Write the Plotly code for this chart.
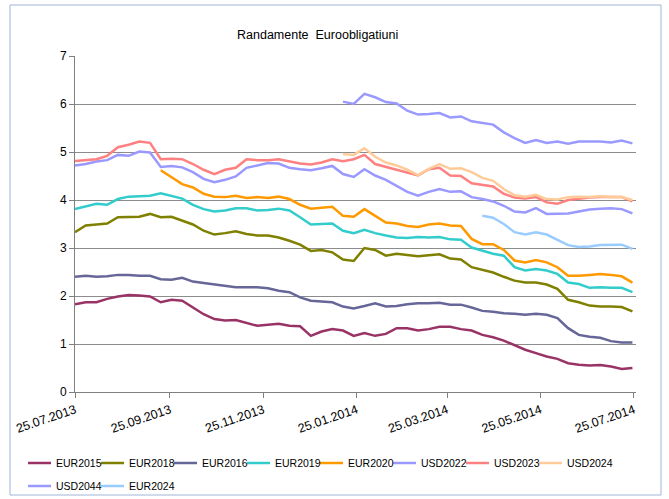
import pandas as pd
import plotly.graph_objects as go

N = None
dates = pd.date_range("2013-07-25", periods=53, freq="7D")

tick_dates = ["2013-07-25", "2013-09-25", "2013-11-25", "2014-01-25",
              "2014-03-25", "2014-05-25", "2014-07-25"]
tick_labels = ["25.07.2013", "25.09.2013", "25.11.2013", "25.01.2014",
               "25.03.2014", "25.05.2014", "25.07.2014"]

EUR2015 = [1.83, 1.87, 1.87, 1.94, 1.99, 2.02, 2.01, 1.99, 1.87, 1.92, 1.90, 1.76, 1.62, 1.52, 1.49, 1.50, 1.44, 1.38,
           1.40, 1.42, 1.38, 1.37, 1.17, 1.26, 1.31, 1.28, 1.17, 1.23, 1.17, 1.21, 1.33, 1.33, 1.28, 1.31, 1.36, 1.36,
           1.31, 1.28, 1.19, 1.14, 1.07, 0.97, 0.88, 0.81, 0.74, 0.69, 0.60, 0.57, 0.55, 0.56, 0.53, 0.48, 0.50]
EUR2018 = [3.33, 3.47, 3.49, 3.51, 3.64, 3.64, 3.65, 3.71, 3.64, 3.65, 3.57, 3.49, 3.36, 3.28, 3.31, 3.35, 3.29, 3.26,
           3.26, 3.22, 3.15, 3.07, 2.94, 2.96, 2.91, 2.76, 2.73, 3.00, 2.96, 2.84, 2.88, 2.86, 2.83, 2.85, 2.87, 2.78,
           2.76, 2.60, 2.54, 2.49, 2.40, 2.32, 2.28, 2.28, 2.24, 2.15, 1.92, 1.87, 1.80, 1.78, 1.78, 1.77, 1.68]
EUR2016 = [2.40, 2.42, 2.40, 2.41, 2.44, 2.44, 2.42, 2.42, 2.35, 2.34, 2.38, 2.30, 2.27, 2.24, 2.22, 2.18, 2.18, 2.18,
           2.16, 2.11, 2.08, 1.97, 1.90, 1.89, 1.87, 1.78, 1.74, 1.79, 1.85, 1.78, 1.79, 1.83, 1.85, 1.85, 1.86, 1.82,
           1.82, 1.76, 1.69, 1.67, 1.64, 1.63, 1.61, 1.63, 1.61, 1.54, 1.33, 1.19, 1.15, 1.13, 1.06, 1.03, 1.03]
EUR2019 = [3.81, 3.86, 3.92, 3.90, 4.02, 4.07, 4.08, 4.09, 4.14, 4.08, 4.03, 3.90, 3.81, 3.76, 3.78, 3.83, 3.83, 3.78,
           3.79, 3.82, 3.78, 3.64, 3.49, 3.50, 3.51, 3.36, 3.31, 3.38, 3.31, 3.26, 3.22, 3.21, 3.23, 3.22, 3.23, 3.18,
           3.17, 3.01, 2.94, 2.88, 2.84, 2.60, 2.53, 2.56, 2.53, 2.46, 2.28, 2.25, 2.17, 2.18, 2.17, 2.17, 2.08]
EUR2020 = [N, N, N, N, N, N, N, N, 4.62, 4.47, 4.33, 4.26, 4.13, 4.07, 4.06, 4.09, 4.04, 4.06,
           4.04, 4.07, 4.02, 3.90, 3.82, 3.84, 3.86, 3.67, 3.65, 3.81, 3.67, 3.53, 3.51, 3.46, 3.44, 3.49, 3.51, 3.47,
           3.46, 3.19, 3.08, 3.08, 2.96, 2.74, 2.70, 2.75, 2.70, 2.60, 2.42, 2.42, 2.44, 2.46, 2.44, 2.41, 2.28]
USD2022 = [4.72, 4.75, 4.80, 4.83, 4.94, 4.92, 5.01, 4.99, 4.69, 4.71, 4.68, 4.58, 4.44, 4.37, 4.42, 4.49, 4.67, 4.72,
           4.77, 4.76, 4.67, 4.64, 4.62, 4.66, 4.71, 4.54, 4.48, 4.64, 4.51, 4.42, 4.30, 4.17, 4.09, 4.17, 4.23, 4.17,
           4.18, 4.06, 4.02, 3.97, 3.88, 3.76, 3.74, 3.83, 3.71, 3.71, 3.72, 3.76, 3.80, 3.82, 3.83, 3.81, 3.72]
USD2023 = [4.81, 4.83, 4.85, 4.92, 5.10, 5.15, 5.22, 5.19, 4.85, 4.86, 4.85, 4.75, 4.63, 4.54, 4.63, 4.67, 4.85, 4.83,
           4.83, 4.85, 4.81, 4.76, 4.74, 4.78, 4.85, 4.81, 4.85, 4.94, 4.75, 4.69, 4.63, 4.56, 4.51, 4.64, 4.67, 4.51,
           4.50, 4.35, 4.32, 4.28, 4.13, 4.05, 4.03, 4.06, 3.95, 3.92, 4.00, 4.03, 4.05, 4.06, 4.06, 4.06, 3.97]
USD2024 = [N] * 25 + [4.96, 4.94, 5.08, 4.90, 4.78, 4.72, 4.63, 4.52, 4.65, 4.75, 4.65,
                      4.66, 4.58, 4.46, 4.40, 4.23, 4.10, 4.07, 4.11, 4.02, 4.01, 4.06, 4.07, 4.06, 4.08, 4.06, 4.06, 4.00]
USD2044 = [N] * 25 + [6.05, 6.00, 6.21, 6.14, 6.04, 6.01, 5.86, 5.78, 5.79, 5.81, 5.72,
                      5.74, 5.64, 5.61, 5.57, 5.41, 5.29, 5.19, 5.25, 5.19, 5.22, 5.17, 5.22, 5.22, 5.22, 5.20, 5.24, 5.18]
EUR2024 = [N] * 38 + [3.67, 3.63, 3.50, 3.33, 3.28, 3.33, 3.28, 3.17, 3.06, 3.02, 3.03, 3.06, 3.07, 3.07, 2.98]

series = [
    ("EUR2015", EUR2015, "#993366"),
    ("EUR2018", EUR2018, "#808000"),
    ("EUR2016", EUR2016, "#666699"),
    ("EUR2019", EUR2019, "#33CCCC"),
    ("EUR2020", EUR2020, "#FF9900"),
    ("USD2022", USD2022, "#9999FF"),
    ("USD2023", USD2023, "#FF8080"),
    ("USD2024", USD2024, "#FFCC99"),
    ("USD2044", USD2044, "#9999FF"),
    ("EUR2024", EUR2024, "#99CCFF"),
]

W, H = 669, 499
L, R, T, B = 75, 33, 56, 107
pw, ph = W - L - R, H - T - B

def px(xp):
    return (xp - L) / pw

def py(yp):
    return (H - B - yp) / ph

font = "Liberation Sans, Arial, sans-serif"

fig = go.Figure()
for name, vals, color in series:
    fig.add_trace(go.Scatter(x=dates, y=vals, name=name, mode="lines",
                             line=dict(color=color, width=2.5), showlegend=False))

# legend drawn as line samples + labels (8 entries in the first row, 2 in the second)
shapes = [dict(type="rect", xref="paper", yref="paper", x0=px(10), x1=px(661), y0=py(495), y1=py(5),
               line=dict(color="#9FB6D8", width=1), fillcolor="rgba(0,0,0,0)", layer="below")]
annotations = [dict(text="Randamente\u00a0 Euroobligatiuni", xref="paper", yref="paper",
                    x=px(317), y=py(35), xanchor="center", yanchor="middle", showarrow=False,
                    font=dict(size=12.5, family=font, color="black"))]
per_row = 8
for i, (name, vals, color) in enumerate(series):
    row, col = divmod(i, per_row)
    x0 = 28 + 73 * col
    yc = 463 + 23 * row
    shapes.append(dict(type="line", xref="paper", yref="paper", x0=px(x0), x1=px(x0 + 23),
                       y0=py(yc), y1=py(yc), line=dict(color=color, width=2.5)))
    annotations.append(dict(text=name, xref="paper", yref="paper", x=px(x0 + 26), y=py(yc),
                            xanchor="left", yanchor="middle", showarrow=False,
                            font=dict(size=10.5, family=font, color="black")))

fig.update_layout(
    width=W, height=H, autosize=False,
    margin=dict(l=L, r=R, t=T, b=B, autoexpand=False),
    paper_bgcolor="white", plot_bgcolor="white",
    font=dict(family=font, size=11, color="black"),
    showlegend=False,
    shapes=shapes,
    annotations=annotations,
)
fig.update_xaxes(type="date", range=["2013-07-25", "2014-07-26 08:00"],
                 tickvals=tick_dates, ticktext=tick_labels, tickangle=-19,
                 ticks="outside", ticklen=5, tickcolor="#808080",
                 showline=True, linecolor="#808080", linewidth=1,
                 showgrid=False, zeroline=False, tickfont=dict(size=12.5), automargin=False)
fig.update_yaxes(range=[0, 7], dtick=1, tick0=0, showgrid=True, gridcolor="#8C8C8C", gridwidth=1,
                 ticks="outside", ticklen=5, tickcolor="#808080",
                 showline=True, linecolor="#808080", linewidth=1, zeroline=False,
                 tickfont=dict(size=12), automargin=False)

fig.write_html("out.html", config={"displayModeBar": False},
               post_script="document.body.style.margin='0';document.body.style.padding='0';")
